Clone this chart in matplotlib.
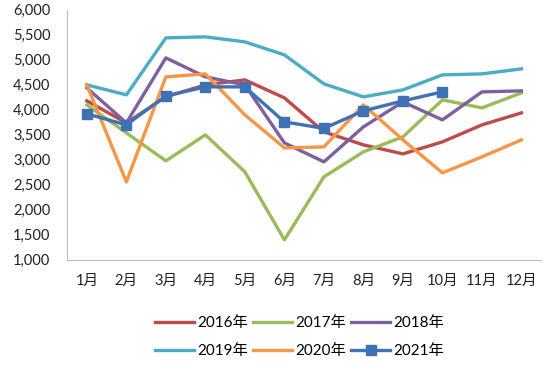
import matplotlib.pyplot as plt
from matplotlib.ticker import FuncFormatter

plt.rcParams['font.family'] = ['Lato', 'Noto Sans CJK SC', 'DejaVu Sans']

months = ['1月', '2月', '3月', '4月', '5月', '6月', '7月', '8月', '9月', '10月', '11月', '12月']

y2016 = [4180, 3740, 4260, 4500, 4600, 4240, 3560, 3300, 3120, 3360, 3700, 3940]
y2017 = [4100, 3540, 2980, 3500, 2760, 1400, 2660, 3160, 3460, 4200, 4040, 4340]
y2018 = [4440, 3740, 5040, 4660, 4500, 3340, 2960, 3660, 4160, 3800, 4360, 4380]
y2019 = [4500, 4300, 5440, 5460, 5360, 5100, 4520, 4260, 4400, 4700, 4720, 4820]
y2020 = [4500, 2560, 4660, 4720, 3900, 3240, 3260, 4100, 3400, 2740, 3060, 3400]
y2021 = [3920, 3700, 4280, 4460, 4460, 3760, 3630, 3980, 4180, 4360]

fig = plt.figure(figsize=(5.5, 3.66), dpi=100)
ax = fig.add_axes([0.122, 0.29, 0.862, 0.683])

x = list(range(1, 13))
lw = 2.4
l16, = ax.plot(x, y2016, color='#BE4B48', lw=lw, label='2016年')
l17, = ax.plot(x, y2017, color='#9BBB59', lw=lw, label='2017年')
l18, = ax.plot(x, y2018, color='#7E5FA0', lw=lw, label='2018年')
l19, = ax.plot(x, y2019, color='#4BACC6', lw=lw, label='2019年')
l20, = ax.plot(x, y2020, color='#F79646', lw=lw, label='2020年')
l21, = ax.plot(x[:len(y2021)], y2021, color='#3F72B5', lw=lw, marker='s', ms=7, label='2021年')

ax.set_xlim(0.5, 12.5)
ax.set_ylim(1000, 6000)
ax.set_yticks(range(1000, 6001, 500))
ax.yaxis.set_major_formatter(FuncFormatter(lambda v, p: '{:,.0f}'.format(v)))
ax.set_xticks(x)
ax.set_xticklabels(months)
ax.tick_params(axis='both', length=0, labelsize=10.5, colors='#222222')
ax.tick_params(axis='x', pad=10)
ax.tick_params(axis='y', pad=12)

for s in ['top', 'right']:
    ax.spines[s].set_visible(False)
for s in ['left', 'bottom']:
    ax.spines[s].set_color('#BBBBBB')

# legend fills by column, so order the handles to read row by row
handles = [l16, l19, l17, l20, l18, l21]
ax.legend(handles, [h.get_label() for h in handles],
          loc='upper center', bbox_to_anchor=(0.49, -0.17), ncol=3, frameon=False,
          fontsize=11, handlelength=2.6, handletextpad=0.2, columnspacing=0.3,
          labelspacing=0.9)

fig.savefig('out.png', dpi=100)
